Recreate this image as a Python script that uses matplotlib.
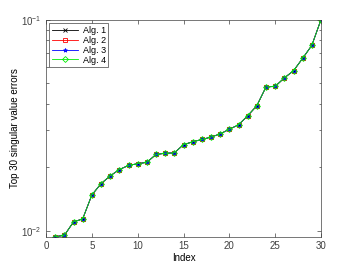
import numpy as np
import matplotlib
matplotlib.use("Agg")
import matplotlib.pyplot as plt

# valeurs
idx = np.arange(1, 31)
err = [0.00937, 0.0095, 0.0110, 0.01137, 0.01476, 0.01671, 0.01819, 0.0195,
       0.0204, 0.0208, 0.0211, 0.0230, 0.0233, 0.0234, 0.0256, 0.0264,
       0.0271, 0.0278, 0.0288, 0.0303, 0.0318, 0.0351, 0.0392, 0.0481,
       0.0484, 0.0531, 0.0574, 0.0658, 0.0758, 0.1004]
labels = ["Alg. 1", "Alg. 2", "Alg. 3", "Alg. 4"]
colors = ["k", "r", "b", "#00ee00"]
markers = ["x", "s", "*", "D"]

plt.rcParams["font.family"] = ["Liberation Sans", "DejaVu Sans"]
plt.rcParams["font.size"] = 7

fig = plt.figure(figsize=(3.54, 2.66), dpi=100)
ax = fig.add_axes([46/354, 1-237/266, 275/354, 217/266])

for lab, c, mk in zip(labels, colors, markers):
    ax.semilogy(idx, err, color=c, marker=mk, markersize=3, linewidth=0.6,
                markerfacecolor="none", markeredgewidth=0.6, label=lab)

ax.set_xlim(0, 30)
ax.set_ylim(0.00933, 0.1)
ax.set_xticks(range(0, 31, 5))
ax.set_xlabel("Index", labelpad=1)
ax.set_ylabel("Top 30 singular value errors")
ax.yaxis.set_label_coords(-0.095, 0.5)
ax.tick_params(which="both", direction="in", top=True, right=True,
               colors="#404040", width=0.5, pad=3)
ax.tick_params(which="major", length=3)
ax.tick_params(which="minor", length=1.8)
for s in ax.spines.values():
    s.set_color("#404040")
    s.set_linewidth(0.5)

leg = ax.legend(loc="upper left", fancybox=False, framealpha=1,
                borderpad=0.3, handlelength=2.9, labelspacing=0.1,
                handletextpad=0.5, borderaxespad=0.35, fontsize=6.5)
leg.get_frame().set_edgecolor("#404040")
leg.get_frame().set_linewidth(0.5)

fig.savefig("out.png", dpi=100)
